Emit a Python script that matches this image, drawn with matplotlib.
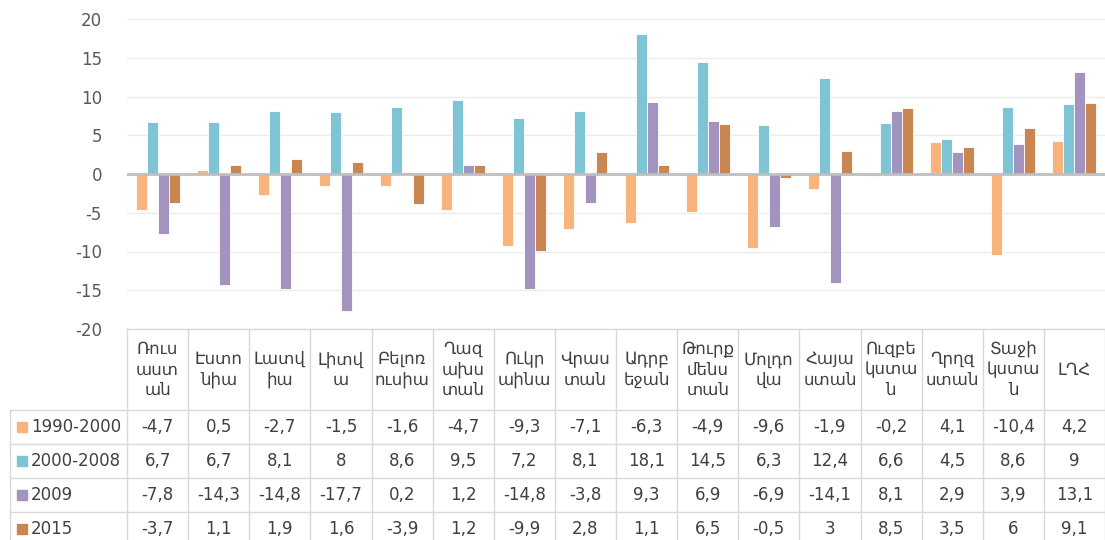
import numpy as np
import matplotlib.pyplot as plt
from matplotlib.lines import Line2D
from matplotlib.patches import Rectangle
from matplotlib.transforms import blended_transform_factory

plt.rcParams['font.family'] = ['DejaVu Sans']
plt.rcParams['axes.unicode_minus'] = False

# categories (header labels wrapped as in the source table)
countries = ["Ռուս\nաստ\nան", "Էստո\nնիա", "Լատվ\nիա", "Լիտվ\nա", "Բելոռ\nուսիա",
             "Ղազ\nախս\nտան", "Ուկր\nաինա", "Վրաս\nտան", "Ադրբ\nեջան", "Թուրք\nմենս\nտան",
             "Մոլդո\nվա", "Հայա\nստան", "Ուզբե\nկստա\nն", "Ղրղզ\nստան", "Տաջի\nկստա\nն", "ԼՂՀ"]

series_names = ["1990-2000", "2000-2008", "2009", "2015"]
v_1990_2000 = [-4.7, 0.5, -2.7, -1.5, -1.6, -4.7, -9.3, -7.1, -6.3, -4.9, -9.6, -1.9, -0.2, 4.1, -10.4, 4.2]
v_2000_2008 = [6.7, 6.7, 8.1, 8, 8.6, 9.5, 7.2, 8.1, 18.1, 14.5, 6.3, 12.4, 6.6, 4.5, 8.6, 9]
v_2009 = [-7.8, -14.3, -14.8, -17.7, 0.2, 1.2, -14.8, -3.8, 9.3, 6.9, -6.9, -14.1, 8.1, 2.9, 3.9, 13.1]
v_2015 = [-3.7, 1.1, 1.9, 1.6, -3.9, 1.2, -9.9, 2.8, 1.1, 6.5, -0.5, 3, 8.5, 3.5, 6, 9.1]
series = [v_1990_2000, v_2000_2008, v_2009, v_2015]
colors = ["#F9B37D", "#7FC4D5", "#A393BF", "#CA8650"]

W, H = 1105, 540
fig = plt.figure(figsize=(W / 100, H / 100), dpi=100)
ax_left, ax_top, ax_bot = 127, 19, 329
ax = fig.add_axes([ax_left / W, (H - ax_bot) / H, (W - ax_left) / W, (ax_bot - ax_top) / H])

n = len(countries)
x = np.arange(n) + 0.5
bw = 0.18
for j, (vals, c) in enumerate(zip(series, colors)):
    ax.bar(x + (j - 1.5) * bw, vals, bw, color=c, edgecolor='white', linewidth=0.6, zorder=3)

ax.set_xlim(0, n)
ax.set_ylim(-20, 20)
ax.set_yticks(range(-20, 21, 5))
ax.set_xticks([])
ax.grid(axis='y', color='#EBEBEB', linewidth=1, zorder=0)
ax.axhline(0, color='#BFBFBF', linewidth=2, zorder=4)
for s in ax.spines.values():
    s.set_visible(False)
ax.tick_params(axis='y', length=0, pad=18, labelsize=12, labelcolor='#595959')

# data table below the axis
tr = blended_transform_factory(ax.transData, ax.transAxes)
axh = ax_bot - ax_top


def ya(py):
    return (ax_bot - py) / axh


def xa(px):
    return (px - ax_left) / (W - ax_left)


grid_c = '#D9D9D9'
header_bot = 410
row_h = 34
rows_y = [header_bot + k * row_h for k in range(5)]

# vertical column lines
for i in range(n + 1):
    ax.add_line(Line2D([i, i], [ya(ax_bot), ya(H + 5)], transform=tr, color=grid_c,
                       linewidth=1, clip_on=False))
# top line of header
ax.add_line(Line2D([0, n], [ya(ax_bot), ya(ax_bot)], transform=tr, color=grid_c,
                   linewidth=1, clip_on=False))
# horizontal row lines
for py in rows_y:
    ax.add_line(Line2D([xa(10), 1], [ya(py), ya(py)], transform=ax.transAxes, color=grid_c,
                       linewidth=1, clip_on=False))
ax.add_line(Line2D([xa(10), xa(10)], [ya(header_bot), ya(H + 5)], transform=ax.transAxes,
                   color=grid_c, linewidth=1, clip_on=False))

txt_c = '#404040'
for i, name in enumerate(countries):
    ax.text(x[i], ya((ax_bot + header_bot) / 2), name, transform=tr, ha='center', va='center',
            fontsize=12, color=txt_c, linespacing=1.2)

for k, (nm, vals, c) in enumerate(zip(series_names, series, colors)):
    cy = ya(rows_y[k] + row_h / 2)
    ax.add_patch(Rectangle((xa(17), cy - 5 / axh), 10 / (W - ax_left), 10 / axh,
                           transform=ax.transAxes, color=c, clip_on=False))
    ax.text(xa(31), cy, nm, transform=ax.transAxes, ha='left', va='center',
            fontsize=12, color=txt_c)
    for i, v in enumerate(vals):
        ax.text(x[i], cy, '{:g}'.format(v).replace('.', ','), transform=tr,
                ha='center', va='center', fontsize=12, color=txt_c)

fig.savefig('out.png', dpi=100)
